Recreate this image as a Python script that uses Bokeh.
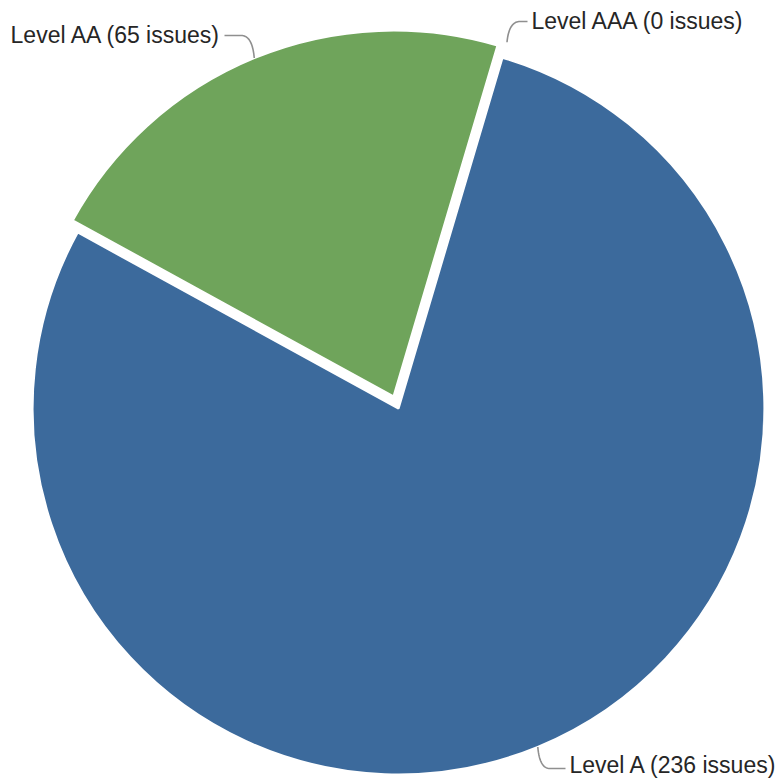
import math

from bokeh.plotting import figure
from bokeh.models import Range1d, ColumnDataSource
from bokeh.core.properties import value
from bokeh.embed import file_html
from bokeh.resources import INLINE

# --- data -----------------------------------------------------------------
levels = ["Level A", "Level AA", "Level AAA"]
issues = [236, 65, 0]
slice_colors = ["#3c6a9c", "#6fa45b", "#9a9a9a"]
sliced = [False, True, False]

# --- layout (pixel coordinates, y measured from the top) --------------------
W, H = 784, 781
CX, CY = 398, 408          # pie centre
R = 366                    # outer radius (incl. half the white border)
START_DEG = 16.5           # first slice starts here, clockwise from 12 o'clock
SLICE_OFFSET = 13          # how far a sliced wedge is pulled out
BORDER = 2.2

# data-label placement: radial gap before the connector, connector row,
# horizontal run of the curved part, text anchor, alignment
conn_gap = [0, 0, 16]
conn_row = [768, 35, 21]
curve_run = [12, -13, 13]
text_x = [569, 221, 531]
text_y = [764, 34, 20]
text_align = ["left", "right", "left"]

FONT = "Liberation Sans"
FONT_SIZE = "23px"


def to_data_y(py):
    return H - py


total = float(sum(issues))
p = figure(
    width=W, height=H,
    x_range=Range1d(0, W), y_range=Range1d(0, H),
    x_axis_location=None, y_axis_location=None,
    output_backend="svg", toolbar_location=None,
    min_border=0,
)
p.grid.visible = False
p.outline_line_color = None
p.background_fill_color = "white"
p.border_fill_color = "white"

wedge = dict(x=[], y=[], start=[], end=[], color=[])
mids = []
centres = []
theta = START_DEG
for name, val, col, cut in zip(levels, issues, slice_colors, sliced):
    span = 360.0 * val / total
    t0, t1 = theta, theta + span
    tm = (t0 + t1) / 2.0
    mids.append(tm)
    ox = oy = 0.0
    if cut:
        ox = SLICE_OFFSET * math.sin(math.radians(tm))
        oy = SLICE_OFFSET * math.cos(math.radians(tm))
    cx, cy = CX + ox, to_data_y(CY) + oy
    centres.append((cx, cy))
    if val > 0:
        wedge["x"].append(cx)
        wedge["y"].append(cy)
        # bokeh angles: counter-clockwise from +x; slices run clockwise
        wedge["start"].append(math.radians(90.0 - t0))
        wedge["end"].append(math.radians(90.0 - t1))
        wedge["color"].append(col)
    theta = t1

p.wedge(
    x="x", y="y", radius=R, start_angle="start", end_angle="end",
    direction="clock", fill_color="color", line_color="white",
    line_width=BORDER, source=ColumnDataSource(wedge),
)

# connectors and labels
xs, ys = [], []
lab = dict(x=[], y=[], text=[], align=[])
for i, (name, val) in enumerate(zip(levels, issues)):
    tm = math.radians(mids[i])
    cx, cy = centres[i]
    rr = R + conn_gap[i]
    x0 = cx + rr * math.sin(tm)
    y0 = cy + rr * math.cos(tm)
    yrow = to_data_y(conn_row[i])
    x2 = x0 + curve_run[i]
    ctrl = (x0 + 0.15 * curve_run[i], yrow)
    px, py = [], []
    for k in range(21):
        t = k / 20.0
        px.append((1 - t) ** 2 * x0 + 2 * (1 - t) * t * ctrl[0] + t * t * x2)
        py.append((1 - t) ** 2 * y0 + 2 * (1 - t) * t * ctrl[1] + t * t * yrow)
    end_x = text_x[i] - 4 if text_align[i] == "left" else text_x[i] + 3
    px.append(end_x)
    py.append(yrow)
    xs.append(px)
    ys.append(py)
    lab["x"].append(text_x[i])
    lab["y"].append(to_data_y(text_y[i]))
    lab["text"].append(f"{name} ({val} issues)")
    lab["align"].append(text_align[i])

p.multi_line(xs=xs, ys=ys, line_color="#8f8f8f", line_width=1.6)
p.text(
    x="x", y="y", text="text", text_align="align", text_baseline="middle",
    text_font=value(FONT), text_font_size=FONT_SIZE, text_color="#262626",
    source=ColumnDataSource(lab),
)

open("out.html", "w").write(file_html(p, INLINE))
